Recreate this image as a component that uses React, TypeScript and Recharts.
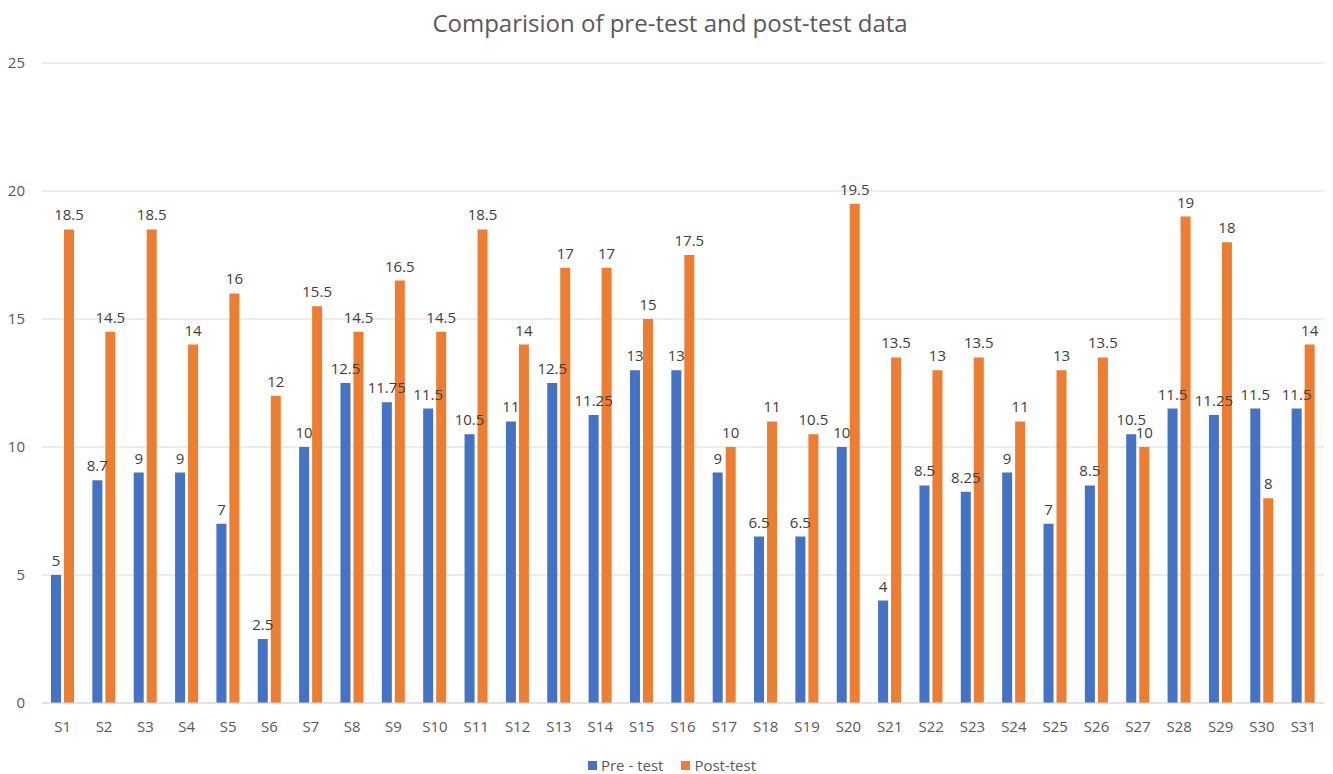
import React from "react";
import { BarChart, Bar, XAxis, YAxis, CartesianGrid, Legend, LabelList } from "recharts";

const categories = ["S1","S2","S3","S4","S5","S6","S7","S8","S9","S10","S11","S12","S13","S14","S15","S16","S17","S18","S19","S20","S21","S22","S23","S24","S25","S26","S27","S28","S29","S30","S31"];
const preTest = [5, 8.7, 9, 9, 7, 2.5, 10, 12.5, 11.75, 11.5, 10.5, 11, 12.5, 11.25, 13, 13, 9, 6.5, 6.5, 10, 4, 8.5, 8.25, 9, 7, 8.5, 10.5, 11.5, 11.25, 11.5, 11.5];
const postTest = [18.5, 14.5, 18.5, 14, 16, 12, 15.5, 14.5, 16.5, 14.5, 18.5, 14, 17, 17, 15, 17.5, 10, 11, 10.5, 19.5, 13.5, 13, 13.5, 11, 13, 13.5, 10, 19, 18, 8, 14];
const yTicks = [0, 5, 10, 15, 20, 25];
const seriesNames = ["Pre - test", "Post-test"];
const seriesColors = ["#4472C4", "#ED7D31"];

const data = categories.map((c, i) => ({ name: c, pre: preTest[i], post: postTest[i] }));

const FONT = "'Open Sans', 'Noto Sans', sans-serif";

const LegendContent = () => (
  <div style={{ height: 41, boxSizing: "border-box", paddingBottom: 0, display: "flex", justifyContent: "center", alignItems: "flex-end", paddingLeft: 20, fontFamily: FONT, fontSize: 15, color: "#595959", lineHeight: "18px" }}>
    {seriesNames.map((n, i) => (
      <span key={n} style={{ display: "inline-flex", alignItems: "center", margin: "0 9px" }}>
        <span style={{ display: "inline-block", width: 9, height: 9, background: seriesColors[i], marginRight: 4 }} />
        {n}
      </span>
    ))}
  </div>
);

export default function App() {
  return (
    <div style={{ position: "absolute", left: 0, top: 0, width: 1333, height: 774, background: "#fff", fontFamily: FONT }}>
      <div style={{ position: "absolute", left: 0, width: 1340, top: 6, textAlign: "center", fontSize: 24, color: "#595959", fontFamily: FONT }}>
        Comparision of pre-test and post-test data
      </div>
      <BarChart
        width={1333}
        height={774}
        data={data}
        margin={{ top: 63, right: 9, left: 0, bottom: 0 }}
        barGap={3}
        barSize={10}
      >
        <CartesianGrid vertical={false} stroke="#d9d9d9" />
        <XAxis
          dataKey="name"
          tickLine={false}
          axisLine={{ stroke: "#d9d9d9" }}
          tick={{ fill: "#595959", fontSize: 15, fontFamily: FONT }}
          tickMargin={12}
          height={30}
          interval={0}
        />
        <YAxis
          domain={[0, 25]}
          ticks={yTicks}
          tickLine={false}
          axisLine={false}
          tick={{ fill: "#595959", fontSize: 15, fontFamily: FONT }}
          tickMargin={11}
          width={42}
        />
        <Legend verticalAlign="bottom" align="center" content={<LegendContent />} />
        <Bar dataKey="pre" name="Pre - test" fill="#4472C4" isAnimationActive={false}>
          <LabelList dataKey="pre" position="top" offset={9} fill="#404040" fontSize={15} fontFamily={FONT} />
        </Bar>
        <Bar dataKey="post" name="Post-test" fill="#ED7D31" isAnimationActive={false}>
          <LabelList dataKey="post" position="top" offset={9} fill="#404040" fontSize={15} fontFamily={FONT} />
        </Bar>
      </BarChart>
    </div>
  );
}
